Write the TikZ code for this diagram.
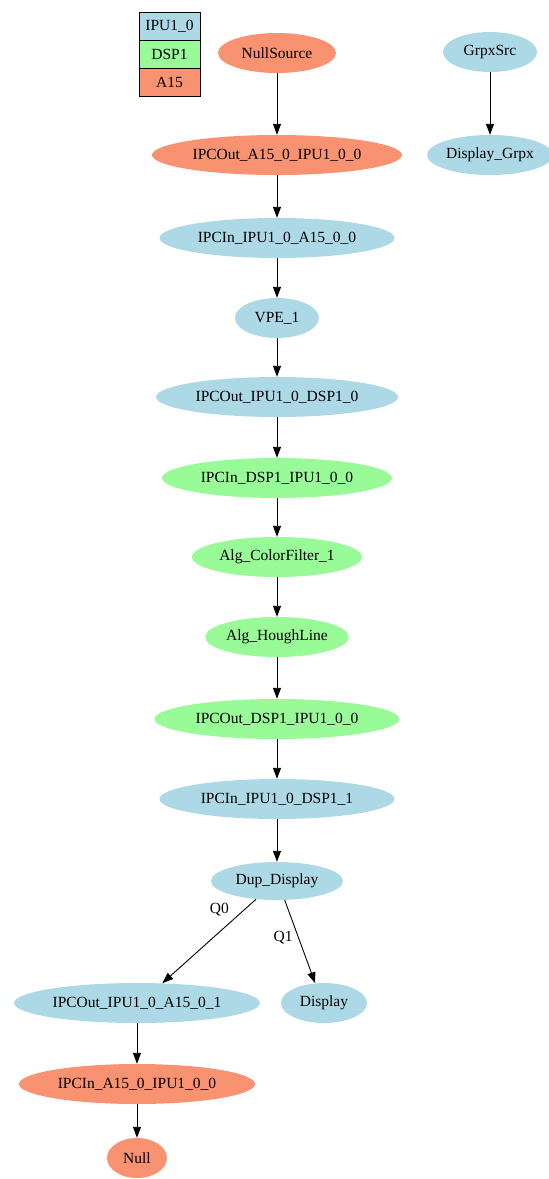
\documentclass[tikz,border=0pt]{standalone}
\usepackage{fontspec}
\setmainfont{Liberation Serif}
\usetikzlibrary{shapes.geometric,arrows.meta}

\definecolor{ipucol}{RGB}{173,216,230}
\definecolor{dspcol}{RGB}{152,251,152}
\definecolor{acol}{RGB}{248,146,112}

\begin{document}
\begin{tikzpicture}[x=1pt,y=-1pt,
    font=\fontsize{15.5}{17}\selectfont,
    link/.style={-{Triangle[length=11pt,width=8pt]}, line width=0.9pt},
    blk/.style={ellipse, inner sep=0pt, minimum height=40pt},
    ipu/.style={blk, fill=ipucol},
    dsp/.style={blk, fill=dspcol},
    arm/.style={blk, fill=acol},
    key/.style={rectangle, draw, line width=0.8pt, minimum width=61pt, minimum height=28pt, inner sep=0pt}]
            \useasboundingbox (0,0) rectangle (549,1179);

            % legend
            \node[key, fill=ipucol] (kipu) at (169.5,26) {IPU1\_0};
            \node[key, fill=dspcol] (kdsp) at (169.5,54) {DSP1};
            \node[key, fill=acol] (karm) at (169.5,82) {A15};

            \node[arm, minimum width=118pt] (nullsrc) at (277,53) {NullSource};
            \node[arm, minimum width=250pt] (outa) at (277,155) {IPCOut\_A15\_0\_IPU1\_0\_0};
            \node[ipu, minimum width=235pt] (inipu) at (277,238) {IPCIn\_IPU1\_0\_A15\_0\_0};
            \node[ipu, minimum width=84pt] (vpe) at (277,318) {VPE\_1};
            \node[ipu, minimum width=242pt] (outipu) at (277,397) {IPCOut\_IPU1\_0\_DSP1\_0};
            \node[dsp, minimum width=230pt] (indsp) at (277,478) {IPCIn\_DSP1\_IPU1\_0\_0};
            \node[dsp, minimum width=170pt] (color) at (277,557) {Alg\_ColorFilter\_1};
            \node[dsp, minimum width=141pt] (hough) at (277,637) {Alg\_HoughLine};
            \node[dsp, minimum width=245pt] (outdsp) at (277,719) {IPCOut\_DSP1\_IPU1\_0\_0};
            \node[ipu, minimum width=235pt] (inipu2) at (277,799) {IPCIn\_IPU1\_0\_DSP1\_1};
            \node[ipu, minimum width=132pt, minimum height=38pt] (dup) at (277,881) {Dup\_Display};
            \node[ipu, minimum width=246pt] (outarm) at (137,1003) {IPCOut\_IPU1\_0\_A15\_0\_1};
            \node[ipu, minimum width=86pt] (disp) at (324,1003) {Display};
            \node[arm, minimum width=236pt] (inarm) at (137,1084) {IPCIn\_A15\_0\_IPU1\_0\_0};
            \node[arm, minimum width=60pt] (null) at (137,1158) {Null};

            \node[ipu, minimum width=94pt] (grpx) at (490,52) {GrpxSrc};
            \node[ipu, minimum width=126pt] (dgrpx) at (490,155) {Display\_Grpx};

            \draw[link] (nullsrc) -- (outa);
            \draw[link] (outa) -- (inipu);
            \draw[link] (inipu) -- (vpe);
            \draw[link] (vpe) -- (outipu);
            \draw[link] (outipu) -- (indsp);
            \draw[link] (indsp) -- (color);
            \draw[link] (color) -- (hough);
            \draw[link] (hough) -- (outdsp);
            \draw[link] (outdsp) -- (inipu2);
            \draw[link] (inipu2) -- (dup);
            \draw[link] (dup.221) -- node[pos=0.25, above left=0pt] {Q0} (outarm.38);
            \draw[link] (dup.292) -- node[pos=0.45, left=2pt] {Q1} (disp.114);
            \draw[link] (outarm) -- (inarm);
            \draw[link] (inarm) -- (null);
            \draw[link] (grpx) -- (dgrpx);
        \end{tikzpicture}
\end{document}
